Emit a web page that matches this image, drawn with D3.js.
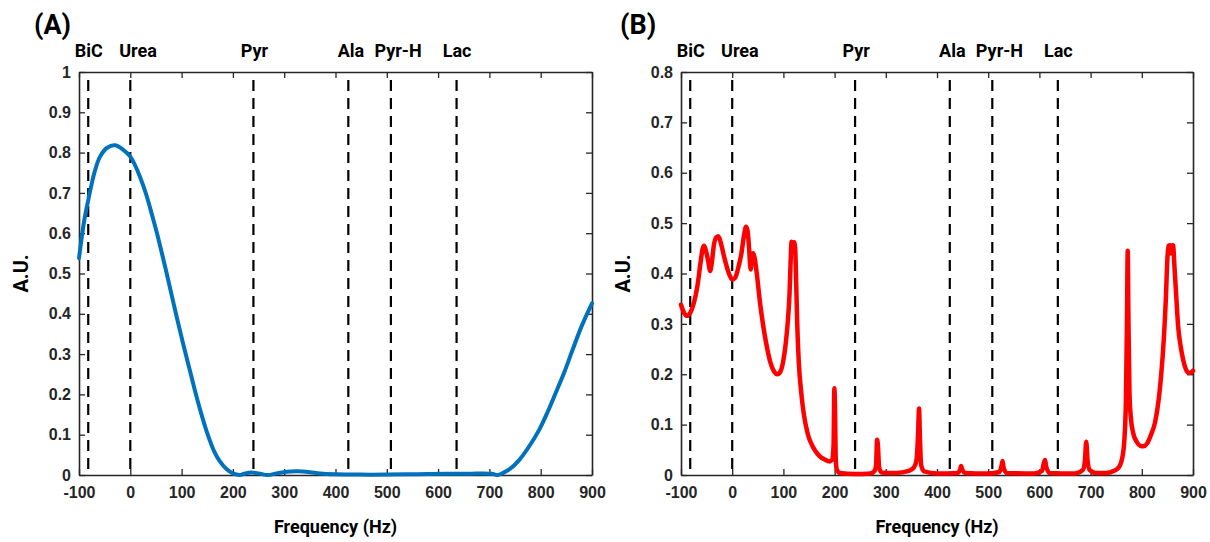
<!DOCTYPE html>
<html>
<head>
<meta charset="utf-8">
<script src="https://cdn.jsdelivr.net/npm/d3@7"></script>
<style>
  html, body { margin: 0; padding: 0; background: #ffffff; }
  svg { display: block; }
</style>
</head>
<body>
<svg id="chart" width="1210" height="542"></svg>
<script>
// Metabolite reference frequencies (Hz, relative to urea)
const metaboliteNames = ["BiC", "Urea", "Pyr", "Ala", "Pyr-H", "Lac"];
const metaboliteFreqs = [-82, 0, 240, 425, 508, 636];
const metaboliteLabelFreqs = [-81, 15, 242, 430, 522, 637];

// Frequency ticks shared by both panels
const freqTicks = [-100, 0, 100, 200, 300, 400, 500, 600, 700, 800, 900];
const ticksA = [0, 0.1, 0.2, 0.3, 0.4, 0.5, 0.6, 0.7, 0.8, 0.9, 1];
const ticksB = [0, 0.1, 0.2, 0.3, 0.4, 0.5, 0.6, 0.7, 0.8];

// Panel A: excitation profile (frequency, amplitude)
const freqA = [-100, -90, -82, -70, -59, -45, -30, -15, 0, 15, 30, 45, 52, 62, 71, 80, 89, 98, 108, 118, 128, 140, 151, 163, 175, 188, 200, 213, 222, 236, 250, 268, 285, 305, 327, 350, 370, 400, 450, 500, 560, 620, 660, 690, 705, 716, 725, 740, 758, 778, 797, 813, 829, 846, 862, 880, 900];
const ampA = [0.538, 0.63, 0.682, 0.75, 0.79, 0.812, 0.818, 0.808, 0.79, 0.752, 0.70, 0.633, 0.60, 0.548, 0.50, 0.45, 0.40, 0.352, 0.30, 0.25, 0.20, 0.145, 0.10, 0.06, 0.033, 0.014, 0.004, 0, 0.003, 0.006, 0.004, 0, 0.004, 0.008, 0.009, 0.007, 0.004, 0.002, 0.001, 0.001, 0.002, 0.003, 0.003, 0.004, 0.003, 0, 0.004, 0.015, 0.037, 0.072, 0.112, 0.155, 0.203, 0.255, 0.31, 0.37, 0.426];

// Panel B: spectral response (frequency, amplitude)
const freqB = [-100, -94, -88, -82, -75, -68, -62, -58, -55, -52, -47, -43, -40, -36, -31, -27, -22, -15, -8, 0, 6, 12, 18, 23, 27, 30, 33, 36, 38, 41, 44, 48, 54, 60, 67, 75, 82, 88, 94, 100, 105, 109, 112, 114, 116, 118, 119.5, 121, 123, 125, 127, 130, 135, 140, 148, 158, 170, 182, 190, 195, 198, 199.5, 201, 202, 204, 210, 240, 270, 278, 281, 283, 284.5, 287, 292, 320, 345, 355, 360, 363, 365, 366.5, 369, 375, 400, 440, 445, 447, 449, 455, 500, 522, 526, 528, 530, 536, 590, 605, 609, 611, 613, 620, 670, 685, 689, 691.5, 694, 698, 710, 730, 745, 755, 762, 766, 769, 771, 772.5, 774, 776, 779, 783, 790, 797, 803, 810, 818, 826, 833, 838, 843, 847, 850, 852, 855, 857, 859, 861, 864, 867, 871, 876, 881, 886, 891, 895, 900];
const ampB = [0.338, 0.322, 0.316, 0.322, 0.341, 0.375, 0.42, 0.448, 0.455, 0.448, 0.425, 0.405, 0.42, 0.455, 0.472, 0.474, 0.46, 0.43, 0.405, 0.388, 0.392, 0.412, 0.44, 0.475, 0.493, 0.485, 0.45, 0.408, 0.425, 0.44, 0.43, 0.4, 0.345, 0.3, 0.258, 0.222, 0.205, 0.2, 0.205, 0.228, 0.265, 0.31, 0.36, 0.42, 0.463, 0.46, 0.452, 0.462, 0.45, 0.38, 0.3, 0.225, 0.162, 0.12, 0.08, 0.055, 0.038, 0.03, 0.027, 0.03, 0.06, 0.172, 0.12, 0.04, 0.012, 0.004, 0.002, 0.003, 0.008, 0.02, 0.07, 0.06, 0.015, 0.005, 0.004, 0.008, 0.015, 0.03, 0.08, 0.132, 0.08, 0.02, 0.007, 0.003, 0.004, 0.01, 0.018, 0.012, 0.004, 0.003, 0.006, 0.018, 0.028, 0.015, 0.004, 0.003, 0.008, 0.025, 0.03, 0.018, 0.004, 0.003, 0.01, 0.03, 0.066, 0.03, 0.01, 0.004, 0.004, 0.008, 0.015, 0.035, 0.07, 0.15, 0.3, 0.445, 0.3, 0.16, 0.11, 0.084, 0.066, 0.058, 0.057, 0.062, 0.08, 0.105, 0.15, 0.2, 0.27, 0.35, 0.43, 0.455, 0.456, 0.44, 0.455, 0.456, 0.41, 0.36, 0.295, 0.255, 0.228, 0.21, 0.203, 0.203, 0.207];

const svg = d3.select("#chart");
const axisColor = "#262626";
const labelFont = "Roboto, 'Noto Sans', sans-serif";
const tickFont = "'Liberation Sans', Arial, sans-serif";

function drawPanel(cfg) {
  const { left, right, top, bottom, yMax, yTicks, freqs, amps, color, lineWidth, curve, tag, tagX } = cfg;
  const x = d3.scaleLinear().domain([-100, 900]).range([left, right]);
  const y = d3.scaleLinear().domain([0, yMax]).range([bottom, top]);
  const g = svg.append("g");

  // Panel tag
  g.append("text")
    .attr("x", tagX).attr("y", 34)
    .attr("font-family", labelFont).attr("font-weight", 700)
    .attr("font-size", 27).attr("fill", "#000")
    .text(tag);

  // Metabolite labels
  g.selectAll("text.met")
    .data(metaboliteNames)
    .join("text")
    .attr("class", "met")
    .attr("x", (d, i) => x(metaboliteLabelFreqs[i]))
    .attr("y", 57)
    .attr("text-anchor", "middle")
    .attr("font-family", labelFont).attr("font-weight", 700)
    .attr("font-size", 18).attr("fill", "#000")
    .text(d => d);

  // Dashed metabolite markers
  g.selectAll("line.met")
    .data(metaboliteFreqs)
    .join("line")
    .attr("class", "met")
    .attr("x1", d => x(d)).attr("x2", d => x(d))
    .attr("y1", top + 8).attr("y2", bottom)
    .attr("stroke", "#000").attr("stroke-width", 2.2)
    .attr("stroke-dasharray", "11,7");

  const fmt = d => String(d);

  // Bottom axis (ticks pointing inward) and mirrored top ticks
  const xAxis = d3.axisBottom(x).tickValues(freqTicks).tickSizeInner(-6).tickSizeOuter(0).tickPadding(12).tickFormat(fmt);
  const gx = g.append("g").attr("transform", `translate(0,${bottom})`).call(xAxis);
  const xTop = d3.axisTop(x).tickValues(freqTicks).tickSizeInner(-6).tickSizeOuter(0).tickFormat("");
  const gxt = g.append("g").attr("transform", `translate(0,${top})`).call(xTop);

  const yAxis = d3.axisLeft(y).tickValues(yTicks).tickSizeInner(-6).tickSizeOuter(0).tickPadding(8).tickFormat(fmt);
  const gy = g.append("g").attr("transform", `translate(${left},0)`).call(yAxis);
  const yRight = d3.axisRight(y).tickValues(yTicks).tickSizeInner(-6).tickSizeOuter(0).tickFormat("");
  const gyr = g.append("g").attr("transform", `translate(${right},0)`).call(yRight);

  [gx, gxt, gy, gyr].forEach(a => {
    a.select(".domain").attr("stroke", axisColor).attr("stroke-width", 1.6);
    a.selectAll(".tick line").attr("stroke", axisColor).attr("stroke-width", 1.3);
    a.selectAll(".tick text")
      .attr("font-family", tickFont).attr("font-weight", 700)
      .attr("font-size", 16).attr("fill", axisColor);
  });

  // Axis titles
  g.append("text")
    .attr("x", (left + right) / 2).attr("y", 533)
    .attr("text-anchor", "middle")
    .attr("font-family", labelFont).attr("font-weight", 700)
    .attr("font-size", 18).attr("fill", "#000")
    .text("Frequency (Hz)");
  g.append("text")
    .attr("transform", `translate(${left - 51},${(top + bottom) / 2}) rotate(-90)`)
    .attr("text-anchor", "middle")
    .attr("font-family", labelFont).attr("font-weight", 700)
    .attr("font-size", 20).attr("fill", "#000")
    .text("A.U.");

  // Spectrum curve
  const line = d3.line()
    .x((d, i) => x(freqs[i]))
    .y(d => y(d))
    .curve(curve);
  g.append("path")
    .datum(amps)
    .attr("d", line)
    .attr("fill", "none")
    .attr("stroke", color)
    .attr("stroke-width", lineWidth)
    .attr("stroke-linejoin", "round")
    .attr("stroke-linecap", "round");
}

drawPanel({ left: 79, right: 592, top: 72, bottom: 475, yMax: 1, yTicks: ticksA,
  freqs: freqA, amps: ampA, color: "#0072BD", lineWidth: 4, curve: d3.curveCatmullRom.alpha(0.5),
  tag: "(A)", tagX: 34 });
drawPanel({ left: 681, right: 1193, top: 72, bottom: 475, yMax: 0.8, yTicks: ticksB,
  freqs: freqB, amps: ampB, color: "#FF0000", lineWidth: 4.5, curve: d3.curveMonotoneX,
  tag: "(B)", tagX: 620 });
</script>
</body>
</html>
